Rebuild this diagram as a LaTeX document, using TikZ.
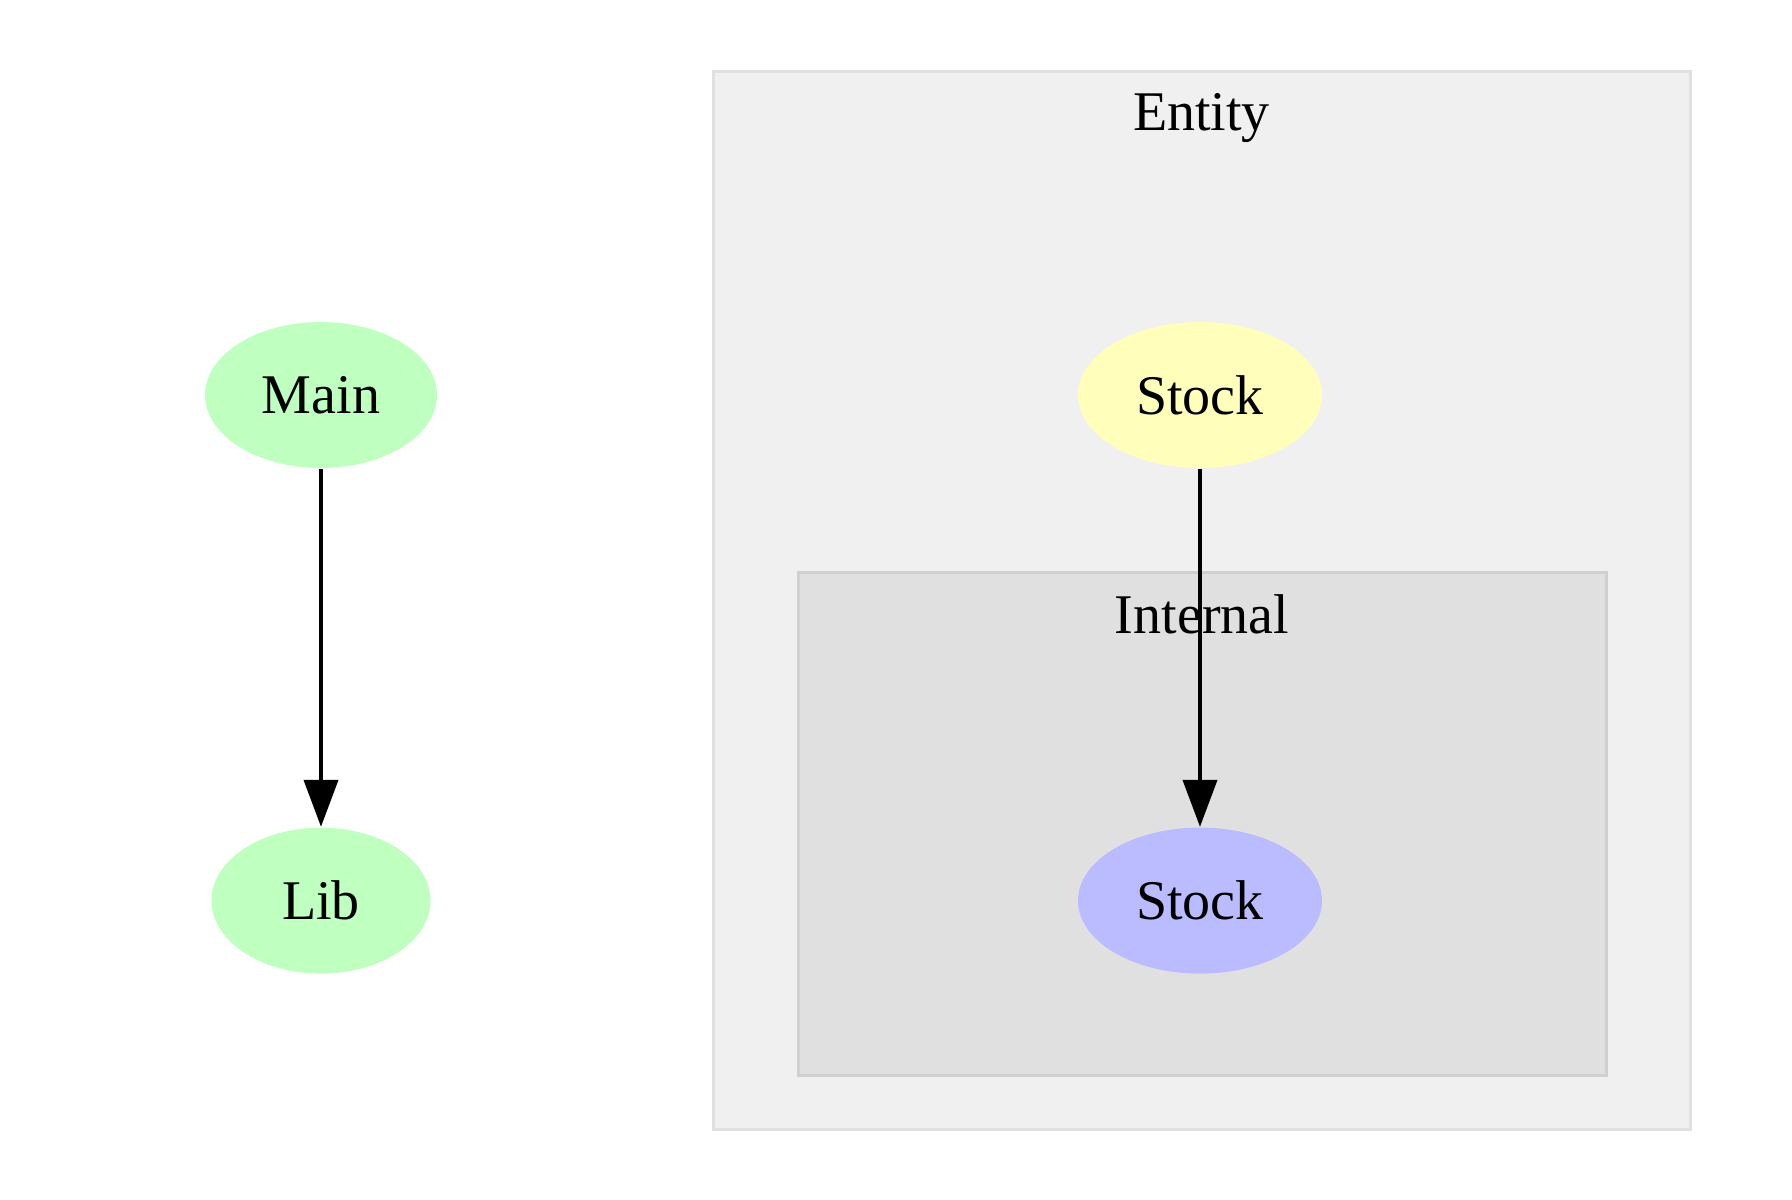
\documentclass[tikz,border=0pt]{standalone}
\usepackage{fontspec}
\setmainfont{Liberation Serif}
\usepackage{tikz}
\usetikzlibrary{shapes.geometric, arrows.meta, calc, positioning}
\definecolor{modgreen}{HTML}{BFFFBF}
\definecolor{modyellow}{HTML}{FFFFBB}
\definecolor{modblue}{HTML}{BBBBFF}
\definecolor{outerfill}{HTML}{F0F0F0}
\definecolor{outerline}{HTML}{E0E0E0}
\definecolor{innerfill}{HTML}{E0E0E0}
\definecolor{innerline}{HTML}{D0D0D0}
\tikzstyle{module} = [ellipse, inner sep=0pt, minimum height=36.5pt, text centered]
\tikzstyle{cluster} = [rectangle, line width=0.75pt, inner sep=0pt]
\tikzstyle{arrow} = [line width=1pt, -{Triangle[length=11.75pt, width=8.5pt]}]

\begin{document}
\begin{tikzpicture}[x=0.25pt, y=-0.25pt, font=\fontsize{14pt}{16pt}\selectfont]
		\useasboundingbox [fill=white] (0,0) rectangle (1792,1200);

		\node (Entity) [cluster, fill=outerfill, draw=outerline, minimum width=244.25pt, minimum height=264.5pt] at (1201.5,600) {};
		\node (EntityLabel) [anchor=base] at ([yshift=-15.25pt]Entity.north) {Entity};
		\node (Internal) [cluster, fill=innerfill, draw=innerline, minimum width=202pt, minimum height=125.75pt] at (1202,823.5) {};
		\node (InternalLabel) [anchor=base] at ([yshift=-15.75pt]Internal.north) {Internal};

		\node (Main) [module, fill=modgreen, minimum width=58pt] at (321,395) {Main};
		\node (Lib) [module, fill=modgreen, minimum width=54.75pt, below = 89.5pt of Main] {Lib};
		\node (EntityStock) [module, fill=modyellow, minimum width=61pt] at (1200,395) {Stock};
		\node (InternalStock) [module, fill=modblue, minimum width=61pt, below = 89.5pt of EntityStock] {Stock};

		\draw [arrow] (Main) -- (Lib);
		\draw [arrow] (EntityStock) -- (InternalStock);
	\end{tikzpicture}
\end{document}
